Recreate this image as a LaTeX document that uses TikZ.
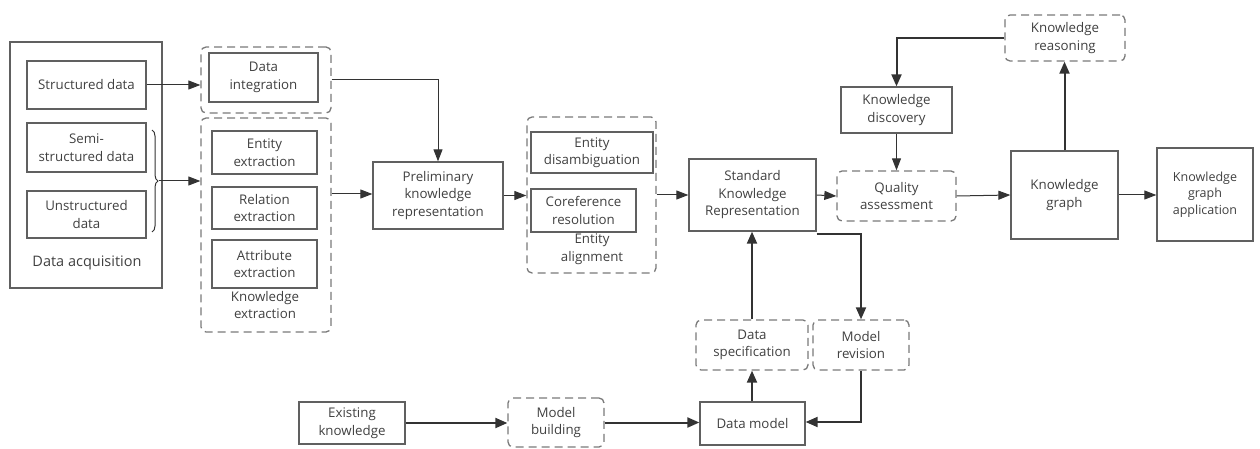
\documentclass[tikz,border=0pt]{standalone}
\usepackage{fontspec}
\setmainfont{Open Sans}
\usetikzlibrary{arrows.meta,decorations.pathreplacing}
\definecolor{txt}{HTML}{404040}
\definecolor{boxc}{HTML}{606060}
\definecolor{dashc}{HTML}{7A7A7A}
\definecolor{linec}{HTML}{333333}
\begin{document}
\begin{tikzpicture}[x=1pt,y=-1pt,
  every node/.style={text=txt,font=\fontsize{13.3}{17.5}\selectfont,align=center,inner sep=0pt},
  sbox/.style={draw=boxc,line width=1.3pt,minimum width=#1},
  grp/.style={draw=dashc,line width=1.3pt,dash pattern=on 8pt off 5pt,rounded corners=5pt},
  conn/.style={draw=linec,line width=1pt,-{Triangle[length=12pt,width=9pt]}},
  tconn/.style={draw=linec,line width=2pt,-{Triangle[length=12pt,width=10pt]}}]
\useasboundingbox (0,0) rectangle (1260,449);
% data acquisition
\node[draw=boxc,line width=1.3pt,minimum width=152pt,minimum height=246pt] (acq) at (86,165) {};
\node[font=\fontsize{14.5}{17}\selectfont] (acqlbl) at (87,263) {Data acquisition};
\node[sbox=119pt,minimum height=48pt] (sd) at (86.5,85) {Structured data};
\node[sbox=119pt,minimum height=49pt] (ssd) at (86.5,147.5) {Semi-\\structured data};
\node[sbox=119pt,minimum height=47pt] (usd) at (86.5,214.5) {Unstructured\\data};
\draw[linec,line width=1pt,decorate,decoration={brace,amplitude=6pt}] (152,130) -- coordinate[xshift=7pt] (btip) (152,232);
% knowledge extraction
\node[grp,minimum width=130pt,minimum height=66pt] (dig) at (266,80) {};
\node[sbox=109pt,minimum height=49pt] (di) at (263.5,77.5) {Data\\integration};
\node[grp,minimum width=130pt,minimum height=214pt] (keg) at (266,225) {};
\node[sbox=105pt,minimum height=43pt] (ee) at (264.5,152.5) {Entity\\extraction};
\node[sbox=105pt,minimum height=42pt] (re) at (264.5,208) {Relation\\extraction};
\node[sbox=105pt,minimum height=48pt] (ae) at (264.5,264) {Attribute\\extraction};
\node (kelbl) at (265,305) {Knowledge\\extraction};
% preliminary
\node[sbox=130pt,minimum height=67pt] (pre) at (438,195.5) {Preliminary\\knowledge\\representation};
% entity alignment
\node[grp,minimum width=129pt,minimum height=156pt] (alg) at (591.5,195) {};
\node[sbox=122pt,minimum height=41pt] (ed) at (592,152.5) {Entity\\disambiguation};
\node[sbox=105pt,minimum height=43pt] (cr) at (583.5,210.5) {Coreference\\resolution};
\node (alglbl) at (592,249) {Entity\\alignment};
% right part
\node[sbox=127pt,minimum height=72pt] (std) at (752.5,195) {Standard\\Knowledge\\Representation};
\node[grp,minimum width=119pt,minimum height=50pt] (qa) at (896.5,196) {Quality\\assessment};
\node[sbox=111pt,minimum height=46pt] (kd) at (896.5,110) {Knowledge\\discovery};
\node[grp,minimum width=120pt,minimum height=46pt] (kr) at (1065,38) {Knowledge\\reasoning};
\node[sbox=107pt,minimum height=88pt] (kg) at (1064.5,195) {Knowledge\\graph};
\node[sbox=96pt,minimum height=93pt,font=\fontsize{12.5}{16.5}\selectfont] (app) at (1205,194.5) {Knowledge\\graph\\application};
\node[grp,minimum width=112pt,minimum height=50pt] (ds) at (752,345) {Data\\specification};
\node[grp,minimum width=96pt,minimum height=50pt] (mr) at (861,345) {Model\\revision};
\node[sbox=105pt,minimum height=43pt] (dm) at (752.5,423.5) {Data model};
\node[sbox=106pt,minimum height=42pt] (ek) at (352,423) {Existing\\knowledge};
\node[grp,minimum width=96pt,minimum height=49pt] (mb) at (556,422.5) {Model\\building};
% connectors
\draw[conn] (sd.east) -- (sd.east -| dig.west);
\draw[conn] (btip) -- (btip -| keg.west);
\draw[conn] (dig.east) -| (pre.north);
\draw[conn] (keg.east |- 0,194) -- (pre.west |- 0,194);
\draw[conn] (pre.east) -- (pre.east -| alg.west);
\draw[conn] (alg.east) -- (std.west);
\draw[conn] (std.east) -- (qa.west);
\draw[conn] (qa.east) -- (kg.west);
\draw[conn] (kd.south) -- (qa.north);
\draw[tconn] (kr.west) -| (kd.north);
\draw[tconn] (kg.north) -- (kr.south -| kg.north);
\draw[conn] (kg.east) -- (kg.east -| app.west);
\draw[tconn] ([yshift=-2pt]std.south east) -| (mr.north);
\draw[tconn] (ds.north) -- (ds.north |- std.south);
\draw[tconn] (dm.north -| ds.north) -- (ds.south);
\draw[tconn] (mr.south) |- ([yshift=1.5pt]dm.east);
\draw[tconn] (ek.east) -- (ek.east -| mb.west);
\draw[tconn] (mb.east) -- (mb.east -| dm.west);
\end{tikzpicture}
\end{document}
